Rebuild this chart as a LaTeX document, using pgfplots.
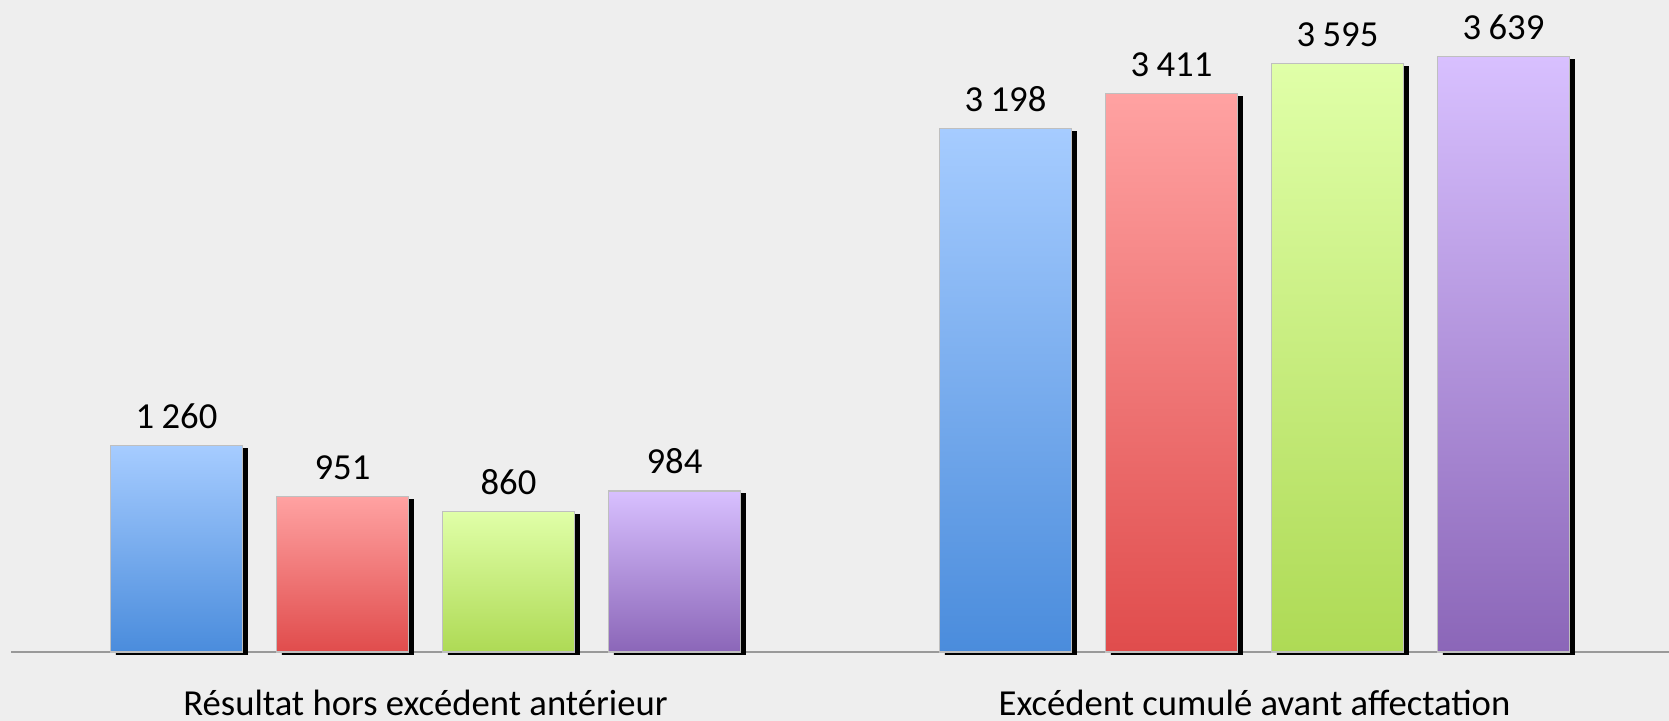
\documentclass[border=0pt]{standalone}
\usepackage{pgfplots}
\pgfplotsset{compat=1.18}
\usepackage{fontspec}
\setmainfont{Carlito}
\definecolor{bg}{HTML}{EEEEEE}
\definecolor{blT}{HTML}{A6CCFF}
\definecolor{blB}{HTML}{4A8CDC}
\definecolor{rdT}{HTML}{FFA2A2}
\definecolor{rdB}{HTML}{E04C4C}
\definecolor{grT}{HTML}{E0FFA8}
\definecolor{grB}{HTML}{AEDA55}
\definecolor{puT}{HTML}{D8C0FF}
\definecolor{puB}{HTML}{8B66B8}
\tikzset{shadowbar/.style={preaction={draw=none, top color=black, bottom color=black, transform canvas={shift={(1.6pt,-0.9pt)}}}}}
\begin{document}
\begin{tikzpicture}
\fill[bg] (0,0) rectangle (500.7pt,216.3pt);
\begin{axis}[
  at={(3.3pt,20.7pt)}, anchor=south west,
  scale only axis, width=497.4pt, height=195.6pt,
  xmin=-0.5, xmax=1.5, ymin=0, ymax=3984,
  clip=false,
  axis x line=bottom, axis y line=none,
  x axis line style={-, draw=black!40, line width=0.5pt},
  xtick={0,1},
  xticklabels={Résultat hors excédent antérieur, Excédent cumulé avant affectation},
  major tick length=0pt,
  xticklabel style={font=\fontsize{11}{13}\selectfont, yshift=-8pt},
  ybar, bar width=39.6pt,
  nodes near coords,
  nodes near coords style={font=\fontsize{11}{13}\selectfont, text=black, yshift=1.5pt},
  /pgf/number format/.cd, 1000 sep={\hspace{0.2em}}, assume math mode=true
]
\addplot[ybar, bar shift=-74.7pt, top color=blT, bottom color=blB, draw=black!25, shadowbar] coordinates {(0,1260)};
\addplot[ybar, bar shift=-24.9pt, top color=rdT, bottom color=rdB, draw=black!25, shadowbar] coordinates {(0,951)};
\addplot[ybar, bar shift=24.9pt, top color=grT, bottom color=grB, draw=black!25, shadowbar] coordinates {(0,860)};
\addplot[ybar, bar shift=74.7pt, top color=puT, bottom color=puB, draw=black!25, shadowbar] coordinates {(0,984)};
\addplot[ybar, bar shift=-74.7pt, top color=blT, bottom color=blB, draw=black!25, shadowbar] coordinates {(1,3198)};
\addplot[ybar, bar shift=-24.9pt, top color=rdT, bottom color=rdB, draw=black!25, shadowbar] coordinates {(1,3411)};
\addplot[ybar, bar shift=24.9pt, top color=grT, bottom color=grB, draw=black!25, shadowbar] coordinates {(1,3595)};
\addplot[ybar, bar shift=74.7pt, top color=puT, bottom color=puB, draw=black!25, shadowbar] coordinates {(1,3639)};
\end{axis}
\pgfresetboundingbox
\path (0,0) rectangle (500.7pt,216.3pt);
\end{tikzpicture}
\end{document}
